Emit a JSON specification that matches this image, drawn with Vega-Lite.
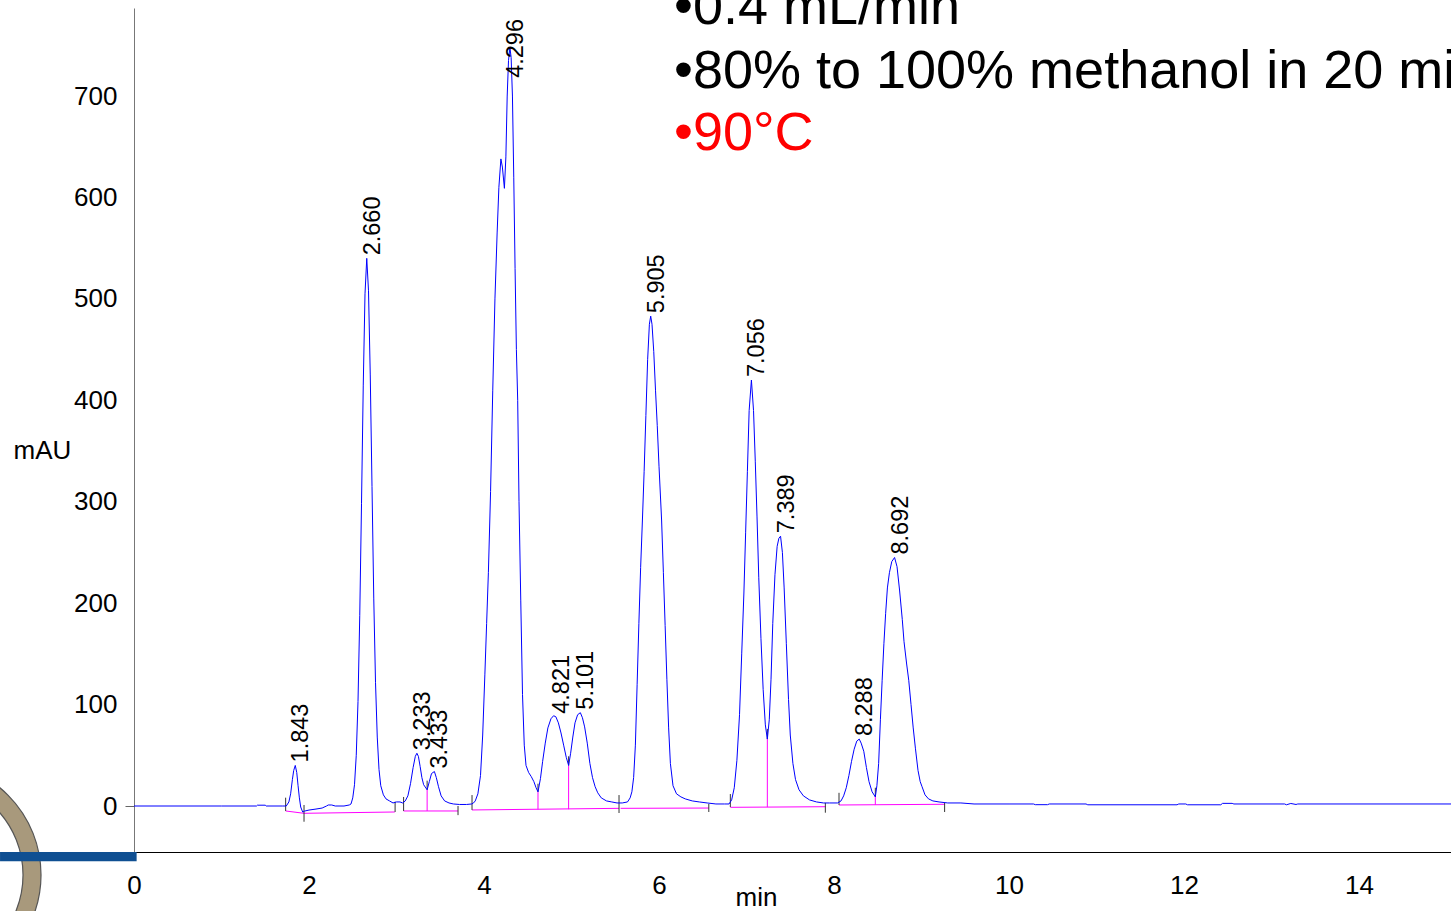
{
  "$schema": "https://vega.github.io/schema/vega-lite/v6.json",
  "width": 1317,
  "height": 844,
  "autosize": {"type": "none"},
  "padding": {"left": 134, "top": 8, "right": 0, "bottom": 59},
  "background": "white",
  "config": {"view": {"stroke": null}, "font": "Liberation Sans"},
  "datasets": {
    "trace": [
      {"t":0,"v":0},{"t":1.0,"v":0},{"t":1.40,"v":0},{"t":1.41,"v":0.8},{"t":1.50,"v":0.8},{"t":1.51,"v":0},{"t":1.70,"v":0},{"t":1.74,"v":0},{"t":1.77,"v":4},{"t":1.79,"v":12},{"t":1.81,"v":26},{"t":1.825,"v":35},{"t":1.843,"v":40},{"t":1.86,"v":33},{"t":1.875,"v":20},{"t":1.89,"v":8},{"t":1.905,"v":-1},{"t":1.928,"v":-6},{"t":1.95,"v":-5},{"t":2.0,"v":-4},{"t":2.08,"v":-3},{"t":2.15,"v":-2},{"t":2.20,"v":0},{"t":2.22,"v":1},{"t":2.26,"v":1},{"t":2.30,"v":0},{"t":2.40,"v":0},{"t":2.46,"v":1},{"t":2.48,"v":2},{"t":2.50,"v":8},{"t":2.52,"v":21},{"t":2.54,"v":50},{"t":2.56,"v":103},{"t":2.58,"v":188},{"t":2.60,"v":298},{"t":2.62,"v":415},{"t":2.64,"v":505},{"t":2.66,"v":540},{"t":2.68,"v":508},{"t":2.70,"v":425},{"t":2.72,"v":315},{"t":2.74,"v":205},{"t":2.76,"v":122},{"t":2.78,"v":68},{"t":2.80,"v":36},{"t":2.82,"v":20},{"t":2.85,"v":11},{"t":2.88,"v":7},{"t":2.92,"v":5},{"t":2.96,"v":3},{"t":3.00,"v":4},{"t":3.04,"v":4},{"t":3.07,"v":3},{"t":3.10,"v":5},{"t":3.13,"v":10},{"t":3.16,"v":22},{"t":3.19,"v":38},{"t":3.215,"v":49},{"t":3.233,"v":52},{"t":3.25,"v":49},{"t":3.27,"v":39},{"t":3.29,"v":28},{"t":3.31,"v":21},{"t":3.35,"v":16},{"t":3.375,"v":24},{"t":3.40,"v":32},{"t":3.433,"v":34},{"t":3.455,"v":28},{"t":3.48,"v":19},{"t":3.51,"v":10},{"t":3.55,"v":5},{"t":3.60,"v":3},{"t":3.65,"v":2},{"t":3.72,"v":1.5},{"t":3.80,"v":1.5},{"t":3.86,"v":2},{"t":3.88,"v":3},{"t":3.90,"v":5},{"t":3.93,"v":12},{"t":3.96,"v":30},{"t":3.985,"v":70},{"t":4.01,"v":130},{"t":4.03,"v":180},{"t":4.05,"v":230},{"t":4.075,"v":310},{"t":4.10,"v":410},{"t":4.125,"v":500},{"t":4.15,"v":565},{"t":4.17,"v":610},{"t":4.193,"v":638},{"t":4.21,"v":630},{"t":4.233,"v":609},{"t":4.25,"v":640},{"t":4.265,"v":700},{"t":4.28,"v":735},{"t":4.296,"v":748},{"t":4.31,"v":738},{"t":4.325,"v":700},{"t":4.34,"v":620},{"t":4.355,"v":530},{"t":4.37,"v":450},{"t":4.385,"v":400},{"t":4.40,"v":300},{"t":4.42,"v":203},{"t":4.44,"v":110},{"t":4.46,"v":60},{"t":4.48,"v":40},{"t":4.51,"v":33},{"t":4.54,"v":29},{"t":4.57,"v":24},{"t":4.595,"v":18},{"t":4.617,"v":14},{"t":4.645,"v":27},{"t":4.67,"v":44},{"t":4.70,"v":62},{"t":4.73,"v":77},{"t":4.765,"v":86},{"t":4.795,"v":89},{"t":4.821,"v":88},{"t":4.85,"v":82},{"t":4.88,"v":72},{"t":4.91,"v":60},{"t":4.94,"v":48},{"t":4.967,"v":40},{"t":4.99,"v":52},{"t":5.015,"v":68},{"t":5.04,"v":82},{"t":5.07,"v":90},{"t":5.101,"v":92},{"t":5.125,"v":87},{"t":5.15,"v":78},{"t":5.18,"v":62},{"t":5.21,"v":42},{"t":5.24,"v":28},{"t":5.27,"v":19},{"t":5.30,"v":13},{"t":5.34,"v":8},{"t":5.40,"v":5},{"t":5.46,"v":4},{"t":5.52,"v":3},{"t":5.58,"v":3},{"t":5.64,"v":4},{"t":5.67,"v":8},{"t":5.69,"v":14},{"t":5.71,"v":28},{"t":5.73,"v":60},{"t":5.75,"v":120},{"t":5.77,"v":180},{"t":5.79,"v":235},{"t":5.81,"v":281},{"t":5.83,"v":330},{"t":5.85,"v":385},{"t":5.87,"v":440},{"t":5.89,"v":475},{"t":5.905,"v":483},{"t":5.92,"v":475},{"t":5.94,"v":448},{"t":5.96,"v":410},{"t":5.98,"v":375},{"t":6.00,"v":335},{"t":6.03,"v":281},{"t":6.05,"v":230},{"t":6.07,"v":178},{"t":6.09,"v":125},{"t":6.11,"v":77},{"t":6.13,"v":42},{"t":6.16,"v":20},{"t":6.20,"v":12},{"t":6.25,"v":9},{"t":6.30,"v":7},{"t":6.38,"v":5},{"t":6.46,"v":4},{"t":6.55,"v":3},{"t":6.65,"v":2},{"t":6.75,"v":2},{"t":6.80,"v":2},{"t":6.83,"v":6},{"t":6.86,"v":18},{"t":6.89,"v":45},{"t":6.92,"v":90},{"t":6.945,"v":150},{"t":6.97,"v":210},{"t":6.99,"v":270},{"t":7.01,"v":330},{"t":7.03,"v":390},{"t":7.056,"v":420},{"t":7.08,"v":390},{"t":7.10,"v":340},{"t":7.12,"v":285},{"t":7.14,"v":225},{"t":7.165,"v":165},{"t":7.19,"v":115},{"t":7.215,"v":80},{"t":7.238,"v":66},{"t":7.26,"v":85},{"t":7.28,"v":125},{"t":7.30,"v":180},{"t":7.325,"v":228},{"t":7.35,"v":256},{"t":7.37,"v":264},{"t":7.389,"v":266},{"t":7.41,"v":250},{"t":7.43,"v":215},{"t":7.455,"v":160},{"t":7.48,"v":105},{"t":7.50,"v":70},{"t":7.53,"v":42},{"t":7.56,"v":26},{"t":7.60,"v":16},{"t":7.65,"v":10},{"t":7.72,"v":6},{"t":7.80,"v":4},{"t":7.88,"v":3},{"t":7.95,"v":3},{"t":8.04,"v":3},{"t":8.08,"v":5},{"t":8.11,"v":10},{"t":8.14,"v":18},{"t":8.17,"v":30},{"t":8.20,"v":44},{"t":8.23,"v":56},{"t":8.26,"v":64},{"t":8.288,"v":66},{"t":8.31,"v":62},{"t":8.34,"v":54},{"t":8.37,"v":38},{"t":8.40,"v":24},{"t":8.435,"v":14},{"t":8.472,"v":9},{"t":8.49,"v":20},{"t":8.51,"v":42},{"t":8.53,"v":85},{"t":8.55,"v":124},{"t":8.57,"v":160},{"t":8.59,"v":190},{"t":8.61,"v":215},{"t":8.633,"v":230},{"t":8.66,"v":241},{"t":8.692,"v":245},{"t":8.72,"v":236},{"t":8.75,"v":212},{"t":8.78,"v":184},{"t":8.80,"v":162},{"t":8.83,"v":140},{"t":8.854,"v":124},{"t":8.88,"v":100},{"t":8.905,"v":77},{"t":8.93,"v":57},{"t":8.96,"v":35},{"t":8.985,"v":24},{"t":9.006,"v":19},{"t":9.04,"v":11},{"t":9.08,"v":7},{"t":9.13,"v":5},{"t":9.20,"v":4},{"t":9.30,"v":3},{"t":9.45,"v":3},{"t":9.60,"v":2},{"t":10.0,"v":2},{"t":10.28,"v":2},{"t":10.30,"v":1.3},{"t":10.44,"v":1.3},{"t":10.46,"v":2},{"t":10.88,"v":2},{"t":10.90,"v":1.2},{"t":11.92,"v":1.2},{"t":11.94,"v":2},{"t":12.02,"v":2},{"t":12.04,"v":1.2},{"t":12.42,"v":1.2},{"t":12.44,"v":2.6},{"t":12.55,"v":2.6},{"t":12.57,"v":2},{"t":13.15,"v":2},{"t":13.17,"v":1.2},{"t":13.22,"v":2.5},{"t":13.28,"v":1.5},{"t":13.30,"v":2},{"t":15.1,"v":2}
    ],
    "seg": [
      {"t":1.733,"v":-4.9,"t2":1.943,"v2":-7.2},
      {"t":1.943,"v":-7.2,"t2":2.981,"v2":-5.9},
      {"t":3.081,"v":-4.9,"t2":3.703,"v2":-4.9},
      {"t":3.863,"v":-3.9,"t2":5.543,"v2":-2.3},
      {"t":5.561,"v":-2.3,"t2":6.569,"v2":-2.0},
      {"t":6.815,"v":-1.3,"t2":7.901,"v2":-0.7},
      {"t":8.057,"v":1.0,"t2":9.264,"v2":1.7}
    ],
    "drop": [
      {"t":3.35,"v":-4.9,"v2":16},
      {"t":4.617,"v":-3.4,"v2":14},
      {"t":4.967,"v":-3.2,"v2":40},
      {"t":7.238,"v":-1.1,"v2":66},
      {"t":8.472,"v":1.2,"v2":9}
    ],
    "ticks": [
      {"t":1.733,"v":8.2,"v2":-4.9},
      {"t":1.943,"v":1,"v2":-15.5},
      {"t":2.984,"v":4.2,"v2":-5.9},
      {"t":3.081,"v":8.9,"v2":-4.9},
      {"t":3.35,"v":25,"v2":16},
      {"t":3.703,"v":0,"v2":-9},
      {"t":3.863,"v":10.8,"v2":-3.9},
      {"t":4.617,"v":22,"v2":14},
      {"t":4.967,"v":49,"v2":40},
      {"t":5.543,"v":10.8,"v2":-6.9},
      {"t":6.569,"v":2,"v2":-5.9},
      {"t":6.815,"v":11.8,"v2":-1},
      {"t":7.238,"v":76,"v2":66},
      {"t":7.901,"v":3,"v2":-6.6},
      {"t":8.057,"v":13,"v2":1},
      {"t":8.472,"v":18,"v2":9},
      {"t":9.264,"v":3,"v2":-5.9}
    ],
    "peaks": [
      {"t":1.843,"v":40,"label":"1.843"},
      {"t":2.66,"v":540,"label":"2.660"},
      {"t":3.233,"v":52,"label":"3.233"},
      {"t":3.433,"v":34,"label":"3.433"},
      {"t":4.296,"v":715,"label":"4.296"},
      {"t":4.821,"v":88,"label":"4.821"},
      {"t":5.101,"v":92,"label":"5.101"},
      {"t":5.905,"v":483,"label":"5.905"},
      {"t":7.056,"v":420,"label":"7.056"},
      {"t":7.389,"v":266,"label":"7.389"},
      {"t":8.288,"v":66,"label":"8.288"},
      {"t":8.692,"v":245,"label":"8.692"}
    ],
    "notes": [
      {"t":6.171,"v":771,"text":"•0.4 mL/min","kind":"a"},
      {"t":6.171,"v":707.9,"text":"•80% to 100% methanol in 20 min","kind":"a"},
      {"t":6.171,"v":646.8,"text":"•90°C","kind":"b"}
    ],
    "ring": [{"t":-2.354,"v":-68}],
    "bar": [{"t":-1.531,"t2":0.03,"v":-45.35,"v2":-54.5}]
  },
  "encoding": {
    "x": {
      "field": "t", "type": "quantitative",
      "scale": {"domain": [0, 15.051], "nice": false, "zero": false},
      "axis": {
        "title": "min", "values": [0,2,4,6,8,10,12,14], "format": "d",
        "grid": false, "ticks": false, "labelPadding": 20,
        "labelFontSize": 26, "labelFont": "Liberation Sans", "labelColor": "#000",
        "labelFlush": false, "labelOverlap": false,
        "domainColor": "#000", "domainWidth": 1,
        "titleFontSize": 26, "titleFont": "Liberation Sans", "titleFontWeight": "normal", "titleColor": "#000",
        "titleX": 622, "titleY": 53, "titleAlign": "center", "titleBaseline": "alphabetic"
      }
    },
    "y": {
      "field": "v", "type": "quantitative",
      "scale": {"domain": [-45.35, 786.8], "nice": false, "zero": false},
      "axis": {
        "title": "mAU", "values": [0,100,200,300,400,500,600,700], "format": "d",
        "grid": false, "tickSize": 9, "tickColor": "#666",
        "tickOpacity": {"condition": {"test": "datum.value === 0", "value": 1}, "value": 0},
        "labelPadding": 8, "labelFontSize": 26, "labelFont": "Liberation Sans", "labelColor": "#000",
        "labelOverlap": false, "labelFlush": false,
        "domainColor": "#777", "domainWidth": 1,
        "titleFontSize": 26, "titleFont": "Liberation Sans", "titleFontWeight": "normal", "titleColor": "#000",
        "titleAngle": 0, "titleX": -121, "titleY": 450, "titleAlign": "left", "titleBaseline": "alphabetic"
      }
    }
  },
  "layer": [
    {
      "data": {"name": "ring"},
      "mark": {"type": "arc", "radius": 113, "radius2": 95, "theta": 0, "theta2": 6.2832, "fill": "#A8997C", "stroke": "#555555", "strokeWidth": 1.2}
    },
    {
      "data": {"name": "bar"},
      "mark": {"type": "rect", "color": "#0F4F92"},
      "encoding": {"x2": {"field": "t2"}, "y2": {"field": "v2"}}
    },
    {
      "data": {"name": "seg"},
      "mark": {"type": "rule", "color": "#FF00FF", "strokeWidth": 1},
      "encoding": {"x2": {"field": "t2"}, "y2": {"field": "v2"}}
    },
    {
      "data": {"name": "drop"},
      "mark": {"type": "rule", "color": "#FF00FF", "strokeWidth": 1},
      "encoding": {"y2": {"field": "v2"}}
    },
    {
      "data": {"name": "ticks"},
      "mark": {"type": "rule", "color": "#333333", "strokeWidth": 1},
      "encoding": {"y2": {"field": "v2"}}
    },
    {
      "data": {"name": "trace"},
      "mark": {"type": "line", "color": "#0000FF", "strokeWidth": 1, "clip": true},
      "encoding": {}
    },
    {
      "data": {"name": "peaks"},
      "mark": {"type": "text", "angle": 270, "align": "left", "baseline": "middle", "dx": 3, "dy": 6, "fontSize": 23.5, "font": "Liberation Sans", "color": "#000000"},
      "encoding": {"text": {"field": "label"}}
    },
    {
      "data": {"name": "notes"},
      "mark": {"type": "text", "align": "left", "baseline": "alphabetic", "fontSize": 54, "font": "Liberation Sans"},
      "encoding": {
        "text": {"field": "text"},
        "color": {"field": "kind", "type": "nominal", "scale": {"domain": ["a", "b"], "range": ["#000000", "#FF0000"]}, "legend": null}
      }
    }
  ]
}
